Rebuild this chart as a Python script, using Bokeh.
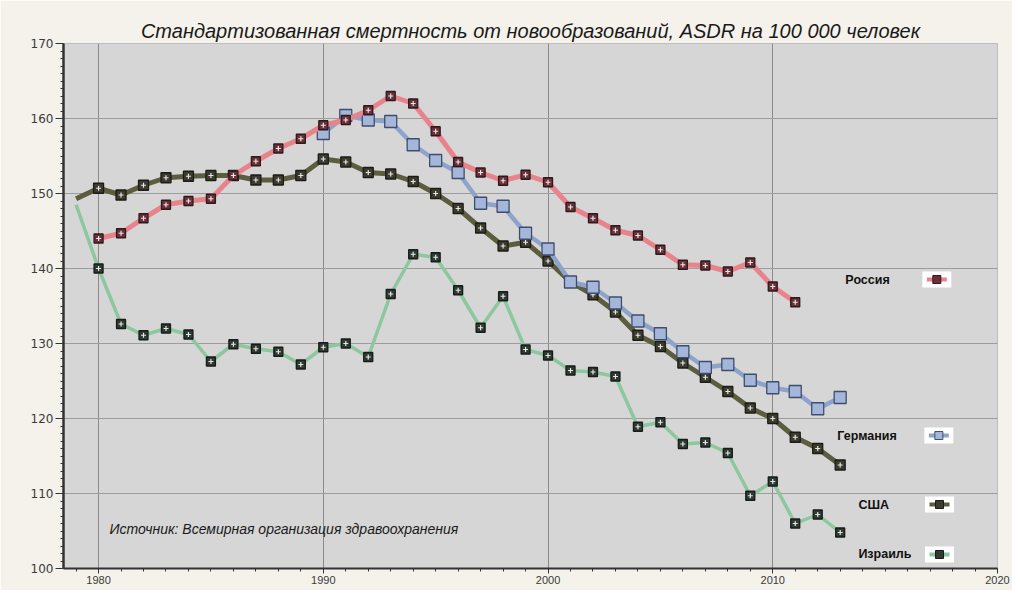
from bokeh.plotting import figure
from bokeh.models import SingleIntervalTicker, ColumnDataSource
from bokeh.core.properties import value
from bokeh.embed import file_html
from bokeh.resources import INLINE

# ---------------- data ----------------
title_text = "Стандартизованная смертность от новообразований, ASDR на 100 000 человек"
source_text = "Источник: Всемирная организация здравоохранения"
series_names = ["Россия", "Германия", "США", "Израиль"]

russia_years = list(range(1980, 2012))
russia_vals = [144.0, 144.7, 146.7, 148.5, 149.0, 149.3, 152.4, 154.3, 156.0, 157.3,
               159.1, 159.8, 161.1, 163.0, 162.0, 158.3, 154.2, 152.8, 151.7, 152.5,
               151.5, 148.2, 146.7, 145.1, 144.4, 142.5, 140.5, 140.4, 139.6, 140.8,
               137.6, 135.5]

germany_years = list(range(1990, 2014))
germany_vals = [158.0, 160.4, 159.8, 159.6, 156.5, 154.4, 152.8, 148.7, 148.3, 144.7,
                142.6, 138.2, 137.5, 135.4, 133.0, 131.3, 128.9, 126.8, 127.2, 125.1,
                124.1, 123.6, 121.3, 122.8]

usa_years = list(range(1979, 2014))
usa_vals = [149.3, 150.7, 149.8, 151.1, 152.1, 152.3, 152.4, 152.4, 151.8, 151.8,
            152.4, 154.6, 154.2, 152.8, 152.6, 151.6, 150.0, 148.0, 145.4, 143.0,
            143.5, 141.0, 138.2, 136.5, 134.2, 131.1, 129.6, 127.4, 125.5, 123.6,
            121.4, 120.0, 117.5, 116.0, 113.8]

israel_years = list(range(1979, 2014))
israel_vals = [148.5, 140.0, 132.6, 131.1, 132.0, 131.2, 127.6, 129.9, 129.3, 128.9,
               127.2, 129.5, 130.0, 128.2, 136.6, 141.9, 141.5, 137.1, 132.1, 136.3,
               129.2, 128.4, 126.4, 126.2, 125.6, 118.9, 119.5, 116.6, 116.8, 115.4,
               109.7, 111.6, 106.0, 107.2, 104.8]

# ---------------- figure ----------------
p = figure(width=1012, height=590, x_range=(1978.44, 2020), y_range=(100, 170),
           output_backend="svg", toolbar_location=None,
           background_fill_color="#d6d6d6", border_fill_color="#f4f2ea",
           min_border_left=63, min_border_right=15, min_border_top=43, min_border_bottom=22)

p.title.text = title_text
p.title.align = "center"
p.title.text_font = "Liberation Sans"
p.title.text_font_style = "italic"
p.title.text_font_size = "20px"
p.title.text_color = "#1a1a1a"
p.title.standoff = 3

p.outline_line_color = "#bdbdbd"

p.xaxis.ticker = SingleIntervalTicker(interval=10, num_minor_ticks=10)
p.yaxis.ticker = SingleIntervalTicker(interval=10, num_minor_ticks=10)

for ax in (p.xaxis[0], p.yaxis[0]):
    ax.axis_line_color = "#333333"
    ax.axis_line_width = 2
    ax.major_tick_line_color = "#333333"
    ax.minor_tick_line_color = "#333333"
    ax.major_tick_in = 0
    ax.minor_tick_in = 0
    ax.major_label_text_color = "#3a3a3a"
    ax.major_label_text_font = "Liberation Sans"

p.yaxis.major_tick_out = 8
p.yaxis.minor_tick_out = 3
p.yaxis.major_label_text_font = "DejaVu Sans"
p.yaxis.major_label_text_font_size = "12px"
p.yaxis.major_label_standoff = 2
p.yaxis.axis_line_width = 2.5

p.xaxis.major_tick_out = 5
p.xaxis.minor_tick_out = 3
p.xaxis.major_label_text_font_size = "11px"
p.xaxis.major_label_standoff = 2

p.xgrid.grid_line_color = "#8a8a8a"
p.ygrid.grid_line_color = "#9c9c9c"

styles = {
    "Россия":   dict(line="#e8838b", lw=5,   fill="#6e3038", edge="#2a1a1c", size=9,  mark_start=0),
    "Германия": dict(line="#8ea3cc", lw=4.5, fill="#a4b6da", edge="#3f4d6c", size=12, mark_start=0),
    "США":      dict(line="#5c5c3f", lw=5,   fill="#3b3b2e", edge="#1c1c16", size=10, mark_start=1),
    "Израиль":  dict(line="#8cc7a0", lw=3.5, fill="#2f3a32", edge="#161c18", size=9,  mark_start=1),
}
data = {
    "Россия": (russia_years, russia_vals),
    "Германия": (germany_years, germany_vals),
    "США": (usa_years, usa_vals),
    "Израиль": (israel_years, israel_vals),
}

for name in ["Израиль", "США", "Германия", "Россия"]:
    xs, ys = data[name]
    st = styles[name]
    p.line(xs, ys, line_color=st["line"], line_width=st["lw"])
    s = st["mark_start"]
    src = ColumnDataSource(dict(x=xs[s:], y=ys[s:]))
    p.scatter("x", "y", source=src, marker="square", size=st["size"],
              fill_color=st["fill"], line_color=st["edge"], line_width=1.3)
    if name != "Германия":
        p.scatter("x", "y", source=src, marker="cross", size=5,
                  line_color="#e6e6e6", line_width=1.2)

# ---------------- legend (custom, right side) ----------------
leg_text_x = [2013.23, 2012.87, 2013.81, 2013.81]
leg_mark_x = [2017.30, 2017.39, 2017.42, 2017.42]
leg_y = [138.53, 117.73, 108.53, 101.87]
for i, name in enumerate(series_names):
    st = styles[name]
    p.text([leg_text_x[i]], [leg_y[i]], text=[name], text_font=value("Liberation Sans"),
           text_font_style="bold", text_font_size="12.5px", text_color="#111111",
           text_baseline="middle", text_align="left")
    p.rect([leg_mark_x[i]], [leg_y[i]], width=29, height=16, width_units="screen",
           height_units="screen", fill_color="white", line_color=None)
    p.scatter([leg_mark_x[i]], [leg_y[i]], marker="dash", size=20, line_color=st["line"],
              line_width=4)
    p.scatter([leg_mark_x[i]], [leg_y[i]], marker="square", size=8, fill_color=st["fill"],
              line_color=st["edge"], line_width=1)

p.text([1980.49], [105.33], text=[source_text], text_font=value("Liberation Sans"),
       text_font_style="italic", text_font_size="14px", text_color="#1a1a1a",
       text_baseline="middle", text_align="left")

open("out.html", "w").write(file_html(p, INLINE))
